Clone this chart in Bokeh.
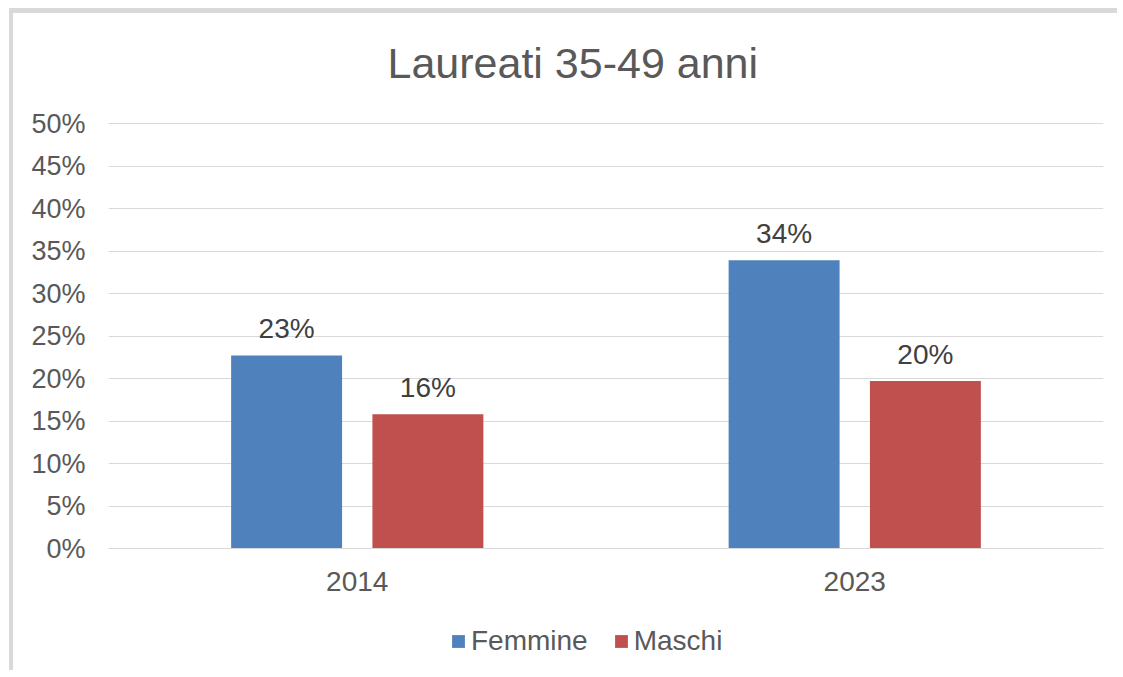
from bokeh.plotting import figure
from bokeh.models import (ColumnDataSource, FactorRange, Range1d, NumeralTickFormatter,
                          FixedTicker, Legend, LegendItem, Label)
from bokeh.transform import dodge
from bokeh.core.properties import value
from bokeh.embed import file_html
from bokeh.resources import INLINE

# ---- data ----
years = ["2014", "2023"]
femmine = [0.227, 0.339]
maschi = [0.158, 0.197]
series_names = ["Femmine", "Maschi"]
colors = ["#4f81bd", "#c0504d"]
y_ticks = [0.0, 0.05, 0.10, 0.15, 0.20, 0.25, 0.30, 0.35, 0.40, 0.45, 0.50]
title_text = "Laureati 35-49 anni"

FONT = "Liberation Sans"
TXT = "#595959"
GRID = "#d9d9d9"

src = ColumnDataSource(dict(
    year=years,
    femmine=femmine,
    maschi=maschi,
    f_lab=[f"{round(v * 100)}%" for v in femmine],
    m_lab=[f"{round(v * 100)}%" for v in maschi],
))

# the frame extends above 50% and below 0 so that title and legend sit inside it
p = figure(
    width=1108, height=662,
    x_range=FactorRange(*years, range_padding=0),
    y_range=Range1d(-0.1435, 0.6059),
    output_backend="svg", toolbar_location=None,
    min_border_left=95, min_border_right=18,
    min_border_top=20, min_border_bottom=5,
)
p.styles = {"margin-left": "9px", "margin-top": "8px",
            "border-top": "5px solid #d9d9d9", "border-left": "4px solid #d9d9d9"}

p.outline_line_color = None
p.background_fill_color = "white"
p.border_fill_color = "white"

# title (screen units, relative to the frame's bottom-left corner)
p.add_layout(Label(x=279, y=608, x_units="screen", y_units="screen",
                   text=title_text, text_align="left", text_baseline="middle",
                   text_font=FONT, text_font_size="43px", text_color=TXT))

# axes
p.xaxis.fixed_location = 0
p.xaxis.axis_line_color = GRID
p.xaxis.major_tick_line_color = None
p.xaxis.minor_tick_line_color = None
p.xaxis.major_label_text_font = FONT
p.xaxis.major_label_text_font_size = "28px"
p.xaxis.major_label_text_color = TXT
p.xaxis.major_label_standoff = 17

p.yaxis.ticker = FixedTicker(ticks=y_ticks)
p.yaxis.formatter = NumeralTickFormatter(format="0%")
p.yaxis.axis_line_color = None
p.yaxis.major_tick_line_color = None
p.yaxis.minor_tick_line_color = None
p.yaxis.major_label_text_font = FONT
p.yaxis.major_label_text_font_size = "27px"
p.yaxis.major_label_text_color = TXT
p.yaxis.major_label_standoff = 17

p.xgrid.grid_line_color = None
p.ygrid.grid_line_color = GRID
p.ygrid.grid_line_width = 1

off = 0.142
bw = 0.223
r_f = p.vbar(x=dodge("year", -off, range=p.x_range), top="femmine", width=bw,
             source=src, fill_color=colors[0], line_color=None)
r_m = p.vbar(x=dodge("year", off, range=p.x_range), top="maschi", width=bw,
             source=src, fill_color=colors[1], line_color=None)

for col, lab, dx in (("femmine", "f_lab", -off), ("maschi", "m_lab", off)):
    p.text(x=dodge("year", dx, range=p.x_range), y=col, text=lab, source=src,
           text_align="center", text_baseline="middle", y_offset=-27,
           text_font=value(FONT), text_font_size=value("28px"), text_color="#404040")

legend = Legend(
    items=[LegendItem(label=series_names[0], renderers=[r_f]),
           LegendItem(label=series_names[1], renderers=[r_m])],
    orientation="horizontal",
    location=(342, 13),
    glyph_width=16, glyph_height=16,
    label_standoff=5, spacing=25, padding=5, margin=0,
    label_text_font=FONT, label_text_font_size="28px", label_text_color=TXT,
    border_line_color=None, background_fill_alpha=0,
)
p.add_layout(legend, "center")

open("out.html", "w").write(file_html(p, INLINE))
